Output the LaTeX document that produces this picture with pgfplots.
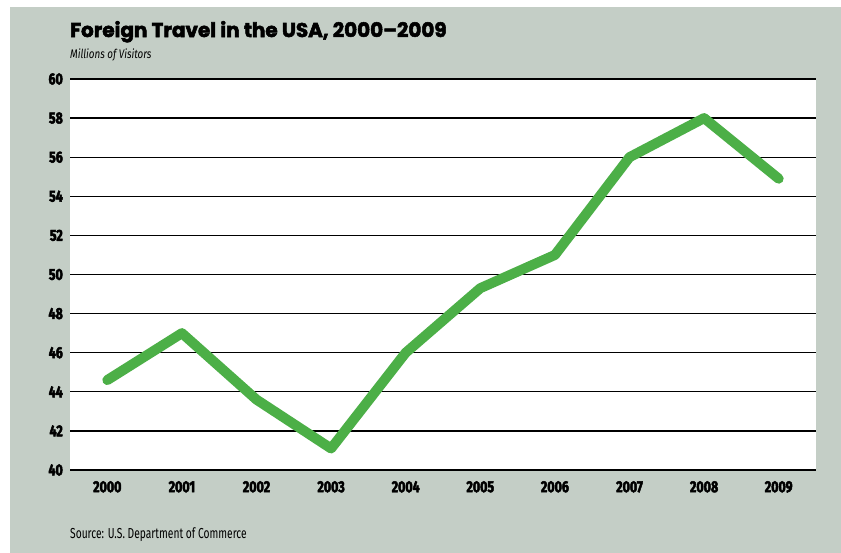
\documentclass[border=0pt]{standalone}
\usepackage{fontspec}
\usepackage{pgfplots}
\pgfplotsset{compat=1.18}
\setmainfont{Fira Sans}
\newfontfamily\titlefont{Poppins}[BoldFeatures={FakeBold=2.6}]
\newfontfamily\subfont{Fira Sans}[FakeStretch=0.79]
\newfontfamily\srcfont{Fira Sans}[FakeStretch=0.71]
\newfontfamily\tickfont{Fira Sans}[FakeStretch=0.78, BoldFeatures={FakeBold=3}]
\definecolor{bggray}{RGB}{196,206,198}
\definecolor{linegreen}{RGB}{76,175,71}

\begin{document}
\begin{tikzpicture}
\useasboundingbox (0,0) rectangle (841bp,-553bp);
\fill[white] (0,0) rectangle (841bp,-553bp);
\fill[bggray] (10bp,-7bp) rectangle (841bp,-553bp);
\node[anchor=base west, inner sep=0, font=\titlefont\bfseries\fontsize{20}{24}\selectfont]
  at (70bp,-37bp) {Foreign Travel in the USA, 2000–2009};
\node[anchor=base west, inner sep=0, font=\subfont\itshape\fontsize{12.5}{14}\selectfont]
  at (70bp,-58bp) {Millions of Visitors};
\node[anchor=base west, inner sep=0, font=\srcfont\fontsize{14.5}{16}\selectfont]
  at (70bp,-538bp) {Source: U.S. Department of Commerce};

\begin{axis}[
    at={(70bp,-470bp)}, anchor=south west,
    scale only axis,
    width=746bp, height=391bp,
    xmin=-0.5, xmax=9.5,
    ymin=40, ymax=60,
    ytick={40,42,...,60},
    xtick={0,...,9},
    xticklabels={2000,2001,2002,2003,2004,2005,2006,2007,2008,2009},
    axis background/.style={fill=white},
    axis line style={draw=none},
    major tick length=0pt,
    ymajorgrids,
    grid style={black, line width=1.3bp},
    /pgf/number format/assume math mode=true,
    yticklabel style={font=\tickfont\bfseries\fontsize{16}{18}\selectfont, inner sep=0pt, xshift=-7bp},
    xticklabel style={font=\tickfont\bfseries\fontsize{16}{18}\selectfont, inner sep=0pt, yshift=-11bp},
    clip=false,
]
\addplot[linegreen, line width=10bp, line join=round, line cap=round] coordinates {
(0, 44.6)
(1, 47.0)
(2, 43.6)
(3, 41.1)
(4, 46.0)
(5, 49.3)
(6, 51.0)
(7, 56.0)
(8, 58.0)
(9, 54.9)
};
\end{axis}
\end{tikzpicture}
\end{document}
